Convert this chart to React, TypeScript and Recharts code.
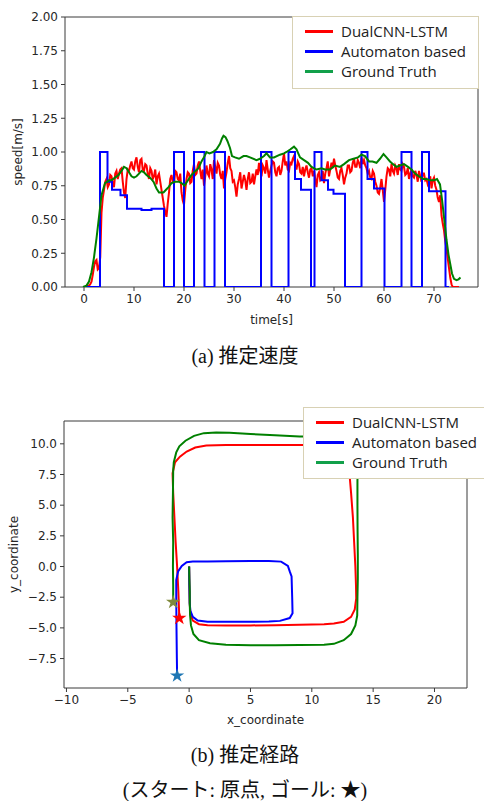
import {
  LineChart,
  Line,
  ScatterChart,
  Scatter,
  XAxis,
  YAxis,
  ReferenceArea,
  Label,
  Legend,
} from "recharts";

/* ---------------- DATA: (a) speed ---------------- */

const seriesNames = ["DualCNN-LSTM", "Automaton based", "Ground Truth"];
const speedTicks = [0, 0.25, 0.5, 0.75, 1.0, 1.25, 1.5, 1.75, 2.0];
const timeTicks = [0, 10, 20, 30, 40, 50, 60, 70];

// DualCNN-LSTM estimate, one reading every 0.25 s starting at t = 0 (5 s per row)
const dualSpeed = [
  0.0, 0.0, 0.01, 0.01, 0.01, 0.02, 0.04, 0.09, 0.15, 0.19, 0.2, 0.13, 0.14, 0.22, 0.55, 0.66, 0.72, 0.78, 0.8, 0.74,
  0.76, 0.83, 0.82, 0.77, 0.74, 0.84, 0.86, 0.8, 0.84, 0.87, 0.88, 0.78, 0.7, 0.66, 0.8, 0.87, 0.86, 0.9, 0.93, 0.88,
  0.87, 0.93, 0.96, 0.89, 0.85, 0.94, 0.95, 0.87, 0.86, 0.91, 0.9, 0.84, 0.8, 0.88, 0.86, 0.8, 0.82, 0.87, 0.76, 0.82,
  0.84, 0.78, 0.72, 0.66, 0.6, 0.56, 0.52, 0.62, 0.7, 0.8, 0.83, 0.78, 0.76, 0.86, 0.85, 0.8, 0.79, 0.84, 0.7, 0.64,
  0.61, 0.72, 0.8, 0.85, 0.84, 0.77, 0.78, 0.86, 0.91, 0.83, 0.84, 0.9, 0.93, 0.86, 0.8, 0.87, 0.75, 0.82, 0.9, 0.84,
  0.82, 0.91, 0.87, 0.8, 0.94, 0.89, 0.84, 0.92, 0.9, 0.83, 0.8, 0.86, 0.73, 0.8, 0.85, 0.92, 0.97, 0.88, 0.86, 0.78,
  0.79, 0.74, 0.67, 0.76, 0.8, 0.85, 0.73, 0.78, 0.83, 0.79, 0.72, 0.8, 0.85, 0.77, 0.78, 0.84, 0.76, 0.82, 0.87, 0.83,
  0.92, 0.86, 0.82, 0.9, 0.88, 0.84, 0.94, 0.87, 0.81, 0.86, 0.9, 0.93, 0.92, 0.85, 0.82, 0.88, 0.89, 0.83, 0.86, 0.93,
  0.99, 0.9, 0.93, 0.87, 0.86, 0.92, 0.91, 0.95, 0.97, 0.9, 0.87, 0.93, 0.91, 0.85, 0.84, 0.89, 0.82, 0.87, 0.9, 0.85,
  0.81, 0.87, 0.88, 0.82, 0.86, 0.8, 0.74, 0.83, 0.85, 0.79, 0.8, 0.86, 0.77, 0.84, 0.88, 0.93, 0.82, 0.87, 0.92, 0.88,
  0.95, 0.9, 0.86, 0.81, 0.8, 0.86, 0.88, 0.83, 0.76, 0.81, 0.84, 0.9, 0.9, 0.85, 0.86, 0.92, 0.95, 0.89, 0.89, 0.94,
  0.92, 0.88, 0.96, 0.91, 0.94, 0.9, 0.88, 0.84, 0.86, 0.81, 0.8, 0.86, 0.84, 0.78, 0.75, 0.7, 0.69, 0.74, 0.8, 0.72,
  0.63, 0.72, 0.82, 0.88, 0.87, 0.82, 0.91, 0.86, 0.84, 0.9, 0.88, 0.83, 0.91, 0.87, 0.86, 0.91, 0.89, 0.83, 0.84, 0.88,
  0.8, 0.84, 0.87, 0.82, 0.81, 0.86, 0.83, 0.78, 0.86, 0.82, 0.78, 0.84, 0.84, 0.79, 0.8, 0.76, 0.78, 0.82, 0.73, 0.79,
  0.81, 0.75, 0.72, 0.66, 0.63, 0.68, 0.53, 0.47, 0.42, 0.34, 0.28, 0.21, 0.14, 0.07, 0.02, 0.0, 0.0, 0.0, 0.0, 0.0,
  0.0,
];
const DUAL_STEP = 0.25;

// automaton output: [time of change, new value]
const automatonSteps = [
  [0, 0], [3.2, 1.0], [4.7, 0.78], [5.6, 0.72], [7.3, 0.68], [8.6, 0.58],
  [11.5, 0.57], [13.5, 0.58], [16.0, 0], [18.0, 1.0], [20.0, 0], [22.0, 1.0],
  [24.1, 0], [26.1, 1.0], [28.2, 0], [35.4, 1.0], [37.5, 0], [40.9, 1.0],
  [42.2, 0.8], [43.4, 0.72], [45.4, 0], [46.1, 1.0], [47.5, 0.79], [48.8, 0.72],
  [49.9, 0.69], [52.2, 0], [55.5, 1.0], [56.7, 0.8], [58.0, 0.73], [60.1, 0],
  [63.5, 1.0], [65.5, 0], [67.6, 1.0], [69.0, 0.71], [72.3, 0], [73.0, 0],
];

const groundTruthSpeed = [
  [-0.2, 0], [0.5, 0.01], [1.0, 0.04], [1.5, 0.11], [2.0, 0.22], [2.5, 0.36],
  [3.0, 0.52], [3.5, 0.68], [4.2, 0.77], [5.0, 0.79], [5.5, 0.79], [6.2, 0.81],
  [6.9, 0.83], [7.5, 0.86], [8.0, 0.89], [8.5, 0.88], [9.0, 0.85], [9.5, 0.82],
  [10.0, 0.81], [10.5, 0.82], [11.0, 0.84], [11.5, 0.86], [12.0, 0.85], [12.5, 0.83],
  [13.2, 0.81], [13.9, 0.78], [14.5, 0.73], [15.0, 0.7], [15.9, 0.7], [16.4, 0.72],
  [16.9, 0.74], [17.5, 0.77], [18.2, 0.78], [19.0, 0.78], [19.5, 0.77], [20.1, 0.75],
  [20.6, 0.78], [21.5, 0.83], [22.3, 0.86], [22.9, 0.88], [23.5, 0.93], [24.0, 0.96],
  [24.5, 1.0], [25.1, 0.99], [25.8, 1.0], [26.5, 1.02], [27.2, 1.06], [27.6, 1.1],
  [27.9, 1.12], [28.3, 1.11], [28.7, 1.08], [29.2, 1.03], [29.6, 0.97], [30.2, 0.96],
  [31.0, 0.95], [31.9, 0.97], [32.5, 0.97], [33.2, 0.96], [34.5, 0.94], [35.2, 0.95],
  [36.0, 0.97], [36.5, 0.99], [37.2, 0.96], [38.0, 0.96], [39.2, 0.98], [40.0, 0.99],
  [40.5, 1.0], [41.3, 1.02], [42.0, 1.04], [42.5, 1.02], [43.2, 0.96], [44.0, 0.94],
  [44.8, 0.92], [45.5, 0.89], [46.5, 0.87], [47.5, 0.88], [48.2, 0.87], [49.2, 0.87],
  [50.2, 0.9], [51.2, 0.89], [52.0, 0.91], [53.0, 0.94], [53.9, 0.95], [54.8, 0.96],
  [55.5, 0.98], [56.2, 0.97], [57.0, 0.93], [57.7, 0.93], [58.5, 0.92], [59.2, 0.95],
  [59.9, 0.985], [60.5, 0.96], [61.2, 0.93], [61.8, 0.91], [62.5, 0.89], [63.2, 0.9],
  [64.0, 0.91], [64.8, 0.89], [65.5, 0.87], [66.2, 0.84], [67.0, 0.82], [67.9, 0.8],
  [68.5, 0.8], [69.2, 0.79], [70.0, 0.79], [70.6, 0.8], [71.2, 0.76], [71.6, 0.65],
  [71.9, 0.55], [72.2, 0.45], [72.5, 0.35], [72.9, 0.24], [73.2, 0.18], [73.6, 0.1],
  [74.0, 0.06], [74.5, 0.05], [74.9, 0.057], [75.3, 0.07],
];

/* ---------------- DATA: (b) path ---------------- */

const xTicks = [-10, -5, 0, 5, 10, 15, 20];
const yTicks = [-7.5, -5, -2.5, 0, 2.5, 5, 7.5, 10];

const dualPath = [
  [0, 0], [0.02, -1.5], [0.05, -3.0], [0.1, -3.9], [0.3, -4.4], [0.8, -4.7],
  [1.5, -4.78], [3, -4.8], [5, -4.8], [7, -4.78], [9, -4.75], [11, -4.7],
  [11.8, -4.65], [12.6, -4.5], [13.2, -4.1], [13.5, -3.5], [13.62, -2.6], [13.6, -1.5],
  [13.55, 0], [13.45, 2], [13.35, 4], [13.2, 6], [13.1, 7.2], [13.0, 8.5],
  [12.8, 9.4], [12.2, 9.85], [11, 9.9], [9, 9.9], [7, 9.9], [5, 9.9],
  [3, 9.9], [1.4, 9.86], [0.5, 9.7], [-0.2, 9.37], [-0.75, 8.95], [-1.15, 8.5],
  [-1.35, 7.6], [-1.3, 6], [-1.2, 4], [-1.1, 2], [-0.98, 0], [-0.88, -2],
  [-0.8, -4.2],
];

const automatonPath = [
  [0, 0], [0.02, -1.5], [0.05, -3.0], [0.1, -3.6], [0.3, -4.1], [0.7, -4.4],
  [1.5, -4.5], [3, -4.5], [5, -4.5], [6.5, -4.48], [7.4, -4.43], [8.2, -4.2],
  [8.43, -3.8], [8.4, -2.5], [8.35, -0.8], [8.2, -0.4], [8.05, 0.05], [7.5, 0.4],
  [6.5, 0.45], [5, 0.45], [3, 0.42], [1.5, 0.41], [0.3, 0.41], [-0.2, 0.35],
  [-0.6, 0.05], [-0.9, -0.4], [-1.05, -1.1], [-1.05, -2.5], [-1.03, -5], [-1.0, -7.5],
  [-0.98, -8.9],
];

const groundTruthPath = [
  [0, 0], [0.02, -1.0], [0.05, -2.0], [0.05, -3.0], [0.08, -4.0], [0.15, -4.8],
  [0.35, -5.5], [0.8, -6.0], [1.7, -6.25], [3, -6.38], [5, -6.42], [7, -6.42],
  [9, -6.4], [11, -6.38], [11.8, -6.3], [12.6, -6.0], [13.2, -5.5], [13.55, -4.8],
  [13.7, -4.0], [13.72, -2.5], [13.75, -1], [13.75, 1], [13.73, 3], [13.72, 5],
  [13.72, 7], [13.75, 8.5], [13.7, 9.6], [13.4, 10.3], [12.8, 10.55], [11, 10.6],
  [9, 10.6], [7, 10.7], [5, 10.8], [3.3, 10.9], [2.2, 10.92], [1.2, 10.87],
  [0.4, 10.65], [-0.3, 10.25], [-0.8, 9.8], [-1.05, 9.3], [-1.25, 8.5], [-1.3, 7.8],
  [-1.32, 6], [-1.35, 4], [-1.3, 2], [-1.32, 0], [-1.3, -1.5], [-1.3, -2.9],
];

// goal positions (last point of each path)
const dualGoal = [-0.8, -4.2];
const automatonGoal = [-0.98, -8.9];
const groundTruthGoal = [-1.3, -2.9];

/* ---------------- STYLE ---------------- */

const RED = "#ff0000";
const BLUE = "#0000ff";
const GREEN = "#008000";
const LEGEND_COLORS = ["#ff0000", "#0000ff", "#12a04a"];
const AXIS = "#3a3a3a";
const TEXT = "#262626";
const FONT = "'DejaVu Sans', sans-serif";
const CAPTION_FONT =
  "'Liberation Serif', 'DejaVu Serif', 'Noto Sans CJK JP', serif";

const T_MIN = -3.8;
const T_MAX = 78.8;
const X_MIN = -10.2;
const X_MAX = 22.65;
const Y_MIN = -9.9;
const Y_MAX = 11.86;

const tickStyle = { fill: TEXT, fontSize: 12, fontFamily: FONT };
const minus = (s: string) => s.replace("-", "\u2212");

const toTV = (rows: number[][]) => rows.map(([t, v]) => ({ t, v }));
const toXY = (rows: number[][]) => rows.map(([x, y]) => ({ x, y }));

const dualSeries = dualSpeed.map((v, i) => ({ t: i * DUAL_STEP, v }));

function LegendBox() {
  return (
    <div
      style={{
        width: "100%",
        height: "100%",
        boxSizing: "border-box",
        border: "1px solid #d8d1b4",
        background: "#fff",
        paddingTop: 4,
        paddingLeft: 12,
        fontFamily: "'Open Sans', sans-serif",
        fontSize: 15,
        color: "#222",
      }}
    >
      {seriesNames.map((name, i) => (
        <div
          key={name}
          style={{ height: 20, display: "flex", alignItems: "center" }}
        >
          <div
            style={{
              width: 28,
              height: 3,
              background: LEGEND_COLORS[i],
              marginRight: 8,
            }}
          />
          <span style={{ whiteSpace: "nowrap" }}>{name}</span>
        </div>
      ))}
    </div>
  );
}

const captionStyle = {
  position: "absolute" as const,
  left: 0,
  width: 490,
  textAlign: "center" as const,
  fontFamily: CAPTION_FONT,
  fontSize: 20,
  color: "#111",
  lineHeight: "24px",
};

export default function App() {
  return (
    <div
      style={{
        position: "absolute",
        left: 0,
        top: 0,
        width: 484,
        height: 801,
        overflow: "hidden",
        background: "#fff",
      }}
    >
      {/* (a) speed */}
      <div style={{ position: "absolute", left: 0, top: 0 }}>
        <LineChart
          width={484}
          height={340}
          margin={{ top: 17, right: 6, left: 8, bottom: 13 }}
        >
          <ReferenceArea
            x1={T_MIN}
            x2={T_MAX}
            y1={0}
            y2={2}
            fill="none"
            stroke={AXIS}
            strokeWidth={1}
            fillOpacity={0}
          />
          <XAxis
            type="number"
            dataKey="t"
            domain={[T_MIN, T_MAX]}
            ticks={timeTicks}
            allowDataOverflow
            axisLine={false}
            tickLine={{ stroke: AXIS }}
            tickSize={4}
            tickMargin={3}
            tick={tickStyle}
            height={40}
          >
            <Label
              value="time[s]"
              position="insideBottom"
              offset={3}
              fill={TEXT}
              fontSize={12}
              fontFamily={FONT}
            />
          </XAxis>
          <YAxis
            type="number"
            domain={[0, 2]}
            ticks={speedTicks}
            allowDataOverflow
            tickFormatter={(v: number) => v.toFixed(2)}
            axisLine={false}
            tickLine={{ stroke: AXIS }}
            tickSize={4}
            tickMargin={3}
            tick={tickStyle}
            width={57}
          >
            <Label
              value="speed[m/s]"
              angle={-90}
              position="insideLeft"
              offset={10}
              fill={TEXT}
              fontSize={12}
              fontFamily={FONT}
              style={{ textAnchor: "middle" }}
            />
          </YAxis>
          <Line
            data={dualSeries}
            dataKey="v"
            name={seriesNames[0]}
            type="linear"
            stroke={RED}
            strokeWidth={2}
            dot={false}
            isAnimationActive={false}
          />
          <Line
            data={toTV(automatonSteps)}
            dataKey="v"
            name={seriesNames[1]}
            type="stepAfter"
            stroke={BLUE}
            strokeWidth={2}
            dot={false}
            isAnimationActive={false}
          />
          <Line
            data={toTV(groundTruthSpeed)}
            dataKey="v"
            name={seriesNames[2]}
            type="linear"
            stroke={GREEN}
            strokeWidth={2}
            dot={false}
            isAnimationActive={false}
          />
          <Legend
            layout="horizontal"
            verticalAlign="middle"
            content={() => <LegendBox />}
            wrapperStyle={{ left: 292, top: 16, width: 187, height: 73 }}
          />
        </LineChart>
      </div>

      <div style={{ ...captionStyle, top: 344 }}>(a) 推定速度</div>

      {/* (b) path */}
      <div style={{ position: "absolute", left: 0, top: 385 }}>
        <ScatterChart
          width={484}
          height={350}
          margin={{ top: 36, right: 17, left: 8, bottom: 7 }}
        >
          <ReferenceArea
            x1={X_MIN}
            x2={X_MAX}
            y1={Y_MIN}
            y2={Y_MAX}
            fill="none"
            stroke={AXIS}
            strokeWidth={1}
            fillOpacity={0}
          />
          <XAxis
            type="number"
            dataKey="x"
            domain={[X_MIN, X_MAX]}
            ticks={xTicks}
            allowDataOverflow
            tickFormatter={(v: number) => minus(String(v))}
            axisLine={false}
            tickLine={{ stroke: AXIS }}
            tickSize={4}
            tickMargin={3}
            tick={tickStyle}
            height={40}
          >
            <Label
              value="x_coordinate"
              position="insideBottom"
              offset={4}
              fill={TEXT}
              fontSize={12}
              fontFamily={FONT}
            />
          </XAxis>
          <YAxis
            type="number"
            dataKey="y"
            domain={[Y_MIN, Y_MAX]}
            ticks={yTicks}
            allowDataOverflow
            tickFormatter={(v: number) => minus(v.toFixed(1))}
            axisLine={false}
            tickLine={{ stroke: AXIS }}
            tickSize={4}
            tickMargin={3}
            tick={tickStyle}
            width={56}
          >
            <Label
              value="y_coordinate"
              angle={-90}
              position="insideLeft"
              offset={6}
              fill={TEXT}
              fontSize={12}
              fontFamily={FONT}
              style={{ textAnchor: "middle" }}
            />
          </YAxis>
          <Scatter
            data={toXY(dualPath)}
            name={seriesNames[0]}
            line={{ stroke: RED, strokeWidth: 2 }}
            lineType="joint"
            shape={() => <g />}
            fill={RED}
            isAnimationActive={false}
          />
          <Scatter
            data={toXY(automatonPath)}
            name={seriesNames[1]}
            line={{ stroke: BLUE, strokeWidth: 2 }}
            lineType="joint"
            shape={() => <g />}
            fill={BLUE}
            isAnimationActive={false}
          />
          <Scatter
            data={toXY(groundTruthPath)}
            name={seriesNames[2]}
            line={{ stroke: GREEN, strokeWidth: 2 }}
            lineType="joint"
            shape={() => <g />}
            fill={GREEN}
            isAnimationActive={false}
          />
          <Scatter
            data={toXY([groundTruthGoal])}
            shape="star"
            fill="#808a3c"
            legendType="none"
            isAnimationActive={false}
          />
          <Scatter
            data={toXY([dualGoal])}
            shape="star"
            fill={RED}
            legendType="none"
            isAnimationActive={false}
          />
          <Scatter
            data={toXY([automatonGoal])}
            shape="star"
            fill="#1f77b4"
            legendType="none"
            isAnimationActive={false}
          />
          <Legend
            layout="horizontal"
            verticalAlign="middle"
            content={() => <LegendBox />}
            wrapperStyle={{ left: 303, top: 22, width: 190, height: 72 }}
          />
        </ScatterChart>
      </div>

      <div style={{ ...captionStyle, top: 743 }}>(b) 推定経路</div>
      <div style={{ ...captionStyle, top: 778 }}>
        (スタート: 原点, ゴール: ★)
      </div>
    </div>
  );
}
